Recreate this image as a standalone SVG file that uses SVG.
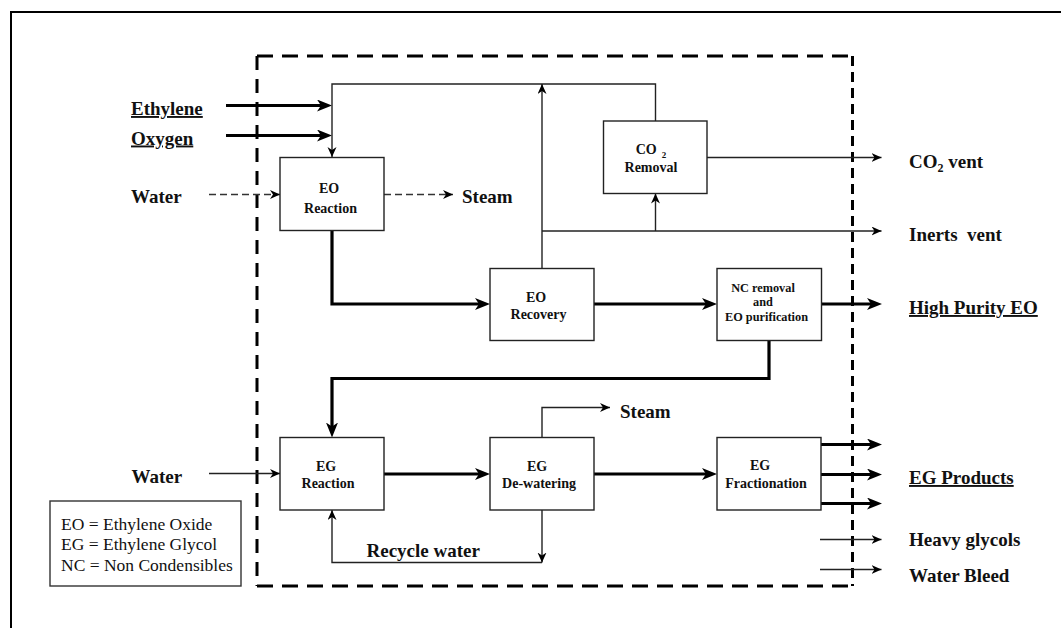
<svg xmlns="http://www.w3.org/2000/svg" width="1061" height="628" viewBox="0 0 1061 628">
<style>
.box{fill:#fff;stroke:#222;stroke-width:1.4}
.bt{font-family:"Liberation Serif","Times New Roman",serif;font-weight:bold;font-size:14px;text-anchor:middle;fill:#111}
.nt{font-family:"Liberation Serif","Times New Roman",serif;font-weight:bold;font-size:12.3px;text-anchor:middle;fill:#111}
.lbl{font-family:"Liberation Serif","Times New Roman",serif;font-weight:bold;font-size:19px;fill:#111}
.ul{text-decoration:underline}
.leg{font-family:"Liberation Serif","Times New Roman",serif;font-size:17.5px;fill:#111}
.thin{fill:none;stroke:#222;stroke-width:1.4}
.thick{fill:none;stroke:#000;stroke-width:3.2}
.dash{fill:none;stroke:#333;stroke-width:1.4;stroke-dasharray:7 4}
.bnd{fill:none;stroke:#000;stroke-width:3}
</style>
<defs>
<marker id="ah" markerUnits="userSpaceOnUse" markerWidth="11" markerHeight="10" refX="10" refY="4.5" orient="auto">
<path d="M0,0 L10,4.5 L0,9 L3,4.5 Z" fill="#000"/>
</marker>
<marker id="ahb" markerUnits="userSpaceOnUse" markerWidth="16" markerHeight="13" refX="5" refY="6" orient="auto">
<path d="M0,0 L15,6 L0,12 L4,6 Z" fill="#000"/>
</marker>
</defs>
<rect x="11" y="12" width="1060" height="630" fill="none" stroke="#000" stroke-width="2"/>
<g id="boundary">
<path class="bnd" d="M257,56 H852.5" stroke-dasharray="16 9"/>
<path class="bnd" d="M257,586 H852.5" stroke-dasharray="16 9"/>
<path class="bnd" d="M257,56 V586" stroke-dasharray="14 9"/>
<path class="bnd" d="M852.5,56 V586" stroke-dasharray="10 6"/>
</g>
<g id="connectors">
<path class="thick" d="M226,105.5 H322" marker-end="url(#ahb)"/>
<path class="thick" d="M226,135.5 H322" marker-end="url(#ahb)"/>
<path class="thin" d="M655.5,121 V84 H332 V157" marker-end="url(#ah)"/>
<path class="thin" d="M542,268.5 V84" marker-end="url(#ah)"/>
<path class="thin" d="M542,231 H881.5" marker-end="url(#ah)"/>
<path class="thin" d="M655.5,231 V193.5" marker-end="url(#ah)"/>
<path class="thin" d="M707,157.5 H881.5" marker-end="url(#ah)"/>
<path class="dash" d="M209,194.5 H280" marker-end="url(#ah)"/>
<path class="dash" d="M384,194.5 H453" marker-end="url(#ah)"/>
<path class="thick" d="M332,230.5 V304 H480" marker-end="url(#ahb)"/>
<path class="thick" d="M594,304 H707" marker-end="url(#ahb)"/>
<path class="thick" d="M821.5,304 H872" marker-end="url(#ahb)"/>
<path class="thick" d="M769,340.5 V378.5 H332 V427.5" marker-end="url(#ahb)"/>
<path class="thin" d="M209,473.5 H280" marker-end="url(#ah)"/>
<path class="thick" d="M384,474 H480" marker-end="url(#ahb)"/>
<path class="thick" d="M594,474 H707" marker-end="url(#ahb)"/>
<path class="thick" d="M821,444.5 H872" marker-end="url(#ahb)"/>
<path class="thick" d="M821,474.5 H872" marker-end="url(#ahb)"/>
<path class="thick" d="M821,503.5 H872" marker-end="url(#ahb)"/>
<path class="thin" d="M542,437.5 V407.5 H610" marker-end="url(#ah)"/>
<path class="thin" d="M542,510 V562.5" marker-end="url(#ah)"/>
<path class="thin" d="M542,562.5 H332 V510" marker-end="url(#ah)"/>
<path class="thin" d="M820,539.5 H881.5" marker-end="url(#ah)"/>
<path class="thin" d="M820,569.5 H881.5" marker-end="url(#ah)"/>
</g>
<g id="eo-reaction">
<rect class="box" x="280" y="157.5" width="104" height="73"/>
<text class="bt" x="329" y="192.5">EO</text>
<text class="bt" x="330.5" y="212.5">Reaction</text>
</g>
<g id="co2-removal">
<rect class="box" x="603.5" y="121" width="103.5" height="72.5"/>
<text class="bt" x="651" y="154">CO<tspan dx="5" dy="4" font-size="9">2</tspan></text>
<text class="bt" x="651" y="171.5">Removal</text>
</g>
<g id="eo-recovery">
<rect class="box" x="490" y="268.5" width="104" height="72"/>
<text class="bt" x="536" y="301.5">EO</text>
<text class="bt" x="538.5" y="318.5">Recovery</text>
</g>
<g id="nc-removal">
<rect class="box" x="717" y="268.5" width="104.5" height="72"/>
<text class="nt" x="763" y="291.5">NC removal</text>
<text class="nt" x="763" y="305.5">and</text>
<text class="nt" x="766.5" y="320.5">EO purification</text>
</g>
<g id="eg-reaction">
<rect class="box" x="280" y="437.5" width="104" height="72.5"/>
<text class="bt" x="326" y="471">EG</text>
<text class="bt" x="328" y="487.5">Reaction</text>
</g>
<g id="eg-dewatering">
<rect class="box" x="490" y="437.5" width="104" height="72.5"/>
<text class="bt" x="537" y="471">EG</text>
<text class="bt" x="539" y="487.5">De-watering</text>
</g>
<g id="eg-fractionation">
<rect class="box" x="717" y="437.5" width="104" height="72.5"/>
<text class="bt" x="760" y="470">EG</text>
<text class="bt" x="766" y="487.5">Fractionation</text>
</g>
<g id="labels">
<text class="lbl ul" x="131" y="115">Ethylene</text>
<text class="lbl ul" x="131" y="144.5">Oxygen</text>
<text class="lbl" x="131" y="203">Water</text>
<text class="lbl" x="462" y="203">Steam</text>
<text class="lbl" x="131.5" y="483">Water</text>
<text class="lbl" x="909" y="168">CO<tspan dy="4" font-size="12">2</tspan><tspan dy="-4"> vent</tspan></text>
<text class="lbl" x="909" y="241" style="white-space:pre">Inerts  vent</text>
<text class="lbl ul" x="909" y="314">High Purity EO</text>
<text class="lbl ul" x="909" y="484">EG Products</text>
<text class="lbl" x="909" y="546">Heavy glycols</text>
<text class="lbl" x="909" y="582">Water Bleed</text>
<text class="lbl" x="620" y="417.5">Steam</text>
<text class="lbl" x="366.5" y="556.5">Recycle water</text>
</g>
<g id="legend">
<rect x="50" y="501" width="191" height="85" fill="#fff" stroke="#333" stroke-width="1.4"/>
<text class="leg" x="61" y="529.5">EO = Ethylene Oxide</text>
<text class="leg" x="61" y="550">EG = Ethylene Glycol</text>
<text class="leg" x="61" y="571">NC = Non Condensibles</text>
</g>
</svg>
